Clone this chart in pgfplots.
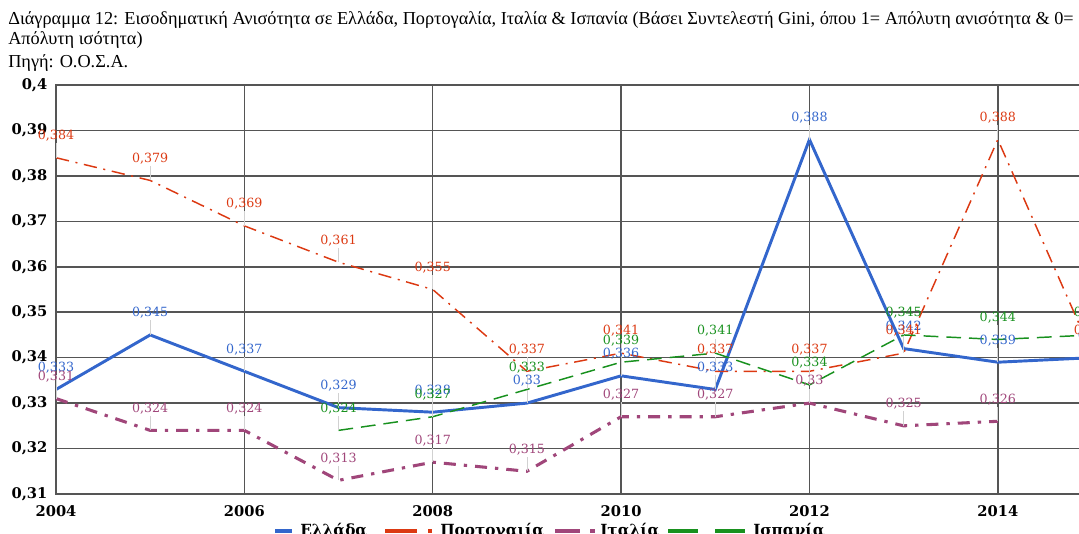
\documentclass[border=0pt]{standalone}
\usepackage{fontspec}
\setmainfont{DejaVu Serif}
\newfontfamily\titlefont{Liberation Serif}
\usepackage{pgfplots}
\pgfplotsset{compat=1.18}
\definecolor{cgr}{RGB}{51,102,204}
\definecolor{cpt}{RGB}{220,57,18}
\definecolor{cit}{RGB}{160,70,122}
\definecolor{ces}{RGB}{24,145,30}
\definecolor{cgrid}{RGB}{85,85,85}
\pgfplotsset{
  lab/.style={
    nodes near coords={\pgfmathprintnumber[precision=3,use comma]{\pgfplotspointmeta}},
    every node near coord/.append style={font=\fontsize{9.5}{11}\selectfont, text=#1, anchor=center, yshift=16.5pt},
    error bars/.cd, y dir=plus, y fixed=0.0032, error mark=none,
    error bar style={solid, line width=0.5pt, color=black!18}
  }
}
\begin{document}
\begin{tikzpicture}
\useasboundingbox (-42pt,-30pt) rectangle (767.25pt,370.5pt);
\begin{axis}[
  at={(0,0)}, anchor=south west,
  scale only axis, width=777pt, height=306.75pt,
  xmin=2004, xmax=2015, ymin=0.31, ymax=0.4,
  xtick={2004,2006,2008,2010,2012,2014},
  ytick={0.31,0.32,0.33,0.34,0.35,0.36,0.37,0.38,0.39,0.4},
  grid=major,
  major grid style={cgrid, line width=1.1pt},
  axis line style={cgrid, line width=1.1pt},
  major tick length=0pt,
  /pgf/number format/assume math mode=true,
  /pgf/number format/use comma,
  yticklabel style={font=\bfseries\fontsize{11}{13}\selectfont, anchor=east, xshift=-3pt},
  xticklabel style={font=\bfseries\fontsize{11}{13}\selectfont, /pgf/number format/1000 sep={}, yshift=-5pt},
]
\addplot[cgr, line width=2.2pt, lab=cgr] coordinates {
  (2004,0.333) (2005,0.345) (2006,0.337) (2007,0.329) (2008,0.328) (2009,0.33)
  (2010,0.336) (2011,0.333) (2012,0.388) (2013,0.342) (2014,0.339) (2015,0.340)};
\addplot[cpt, line width=1.1pt, dash pattern=on 10pt off 5pt on 1.5pt off 5pt, lab=cpt] coordinates {
  (2004,0.384) (2005,0.379) (2006,0.369) (2007,0.361) (2008,0.355) (2009,0.337)
  (2010,0.341) (2011,0.337) (2012,0.337) (2013,0.341) (2014,0.388) (2015,0.341)};
\addplot[cit, line width=2.3pt, dash pattern=on 9pt off 6pt on 2.5pt off 6pt, lab=cit] coordinates {
  (2004,0.331) (2005,0.324) (2006,0.324) (2007,0.313) (2008,0.317) (2009,0.315)
  (2010,0.327) (2011,0.327) (2012,0.33) (2013,0.325) (2014,0.326)};
\addplot[ces, line width=1.1pt, dash pattern=on 11pt off 6pt, lab=ces] coordinates {
  (2007,0.324) (2008,0.327) (2009,0.333) (2010,0.339) (2011,0.341) (2012,0.334)
  (2013,0.345) (2014,0.344) (2015,0.345)};
\end{axis}
% title
\node[anchor=west, inner sep=0, font=\titlefont\fontsize{13.7}{15}\selectfont] at (-36pt,355.5pt)
  {Διάγραμμα 12: Εισοδηματική Ανισότητα σε Ελλάδα, Πορτογαλία, Ιταλία \& Ισπανία (Βάσει Συντελεστή Gini, όπου 1= Απόλυτη ανισότητα \& 0=};
\node[anchor=west, inner sep=0, font=\titlefont\fontsize{13.7}{15}\selectfont] at (-36pt,340.5pt)
  {Απόλυτη ισότητα)};
\node[anchor=west, inner sep=0, font=\titlefont\fontsize{13.7}{15}\selectfont] at (-36pt,323.25pt)
  {Πηγή: Ο.Ο.Σ.Α.};
% legend
\fill[cgr] (164.25pt,-29.25pt) rectangle (177pt,-26.25pt);
\node[anchor=base west, inner sep=0, font=\bfseries\fontsize{11.5}{13}\selectfont] at (183pt,-31pt) {Ελλάδα};
\fill[cpt] (246.75pt,-29.25pt) rectangle (270.75pt,-26.25pt);
\fill[cpt] (279pt,-29.25pt) rectangle (282pt,-26.25pt);
\node[anchor=base west, inner sep=0, font=\bfseries\fontsize{11.5}{13}\selectfont] at (288pt,-31pt) {Πορτογαιία};
\fill[cit] (374.25pt,-29.25pt) rectangle (393pt,-26.25pt);
\fill[cit] (400.5pt,-29.25pt) rectangle (404.25pt,-26.25pt);
\node[anchor=base west, inner sep=0, font=\bfseries\fontsize{11.5}{13}\selectfont] at (408pt,-31pt) {Ιταλία};
\fill[ces] (459pt,-29.25pt) rectangle (481.5pt,-26.25pt);
\fill[ces] (494.25pt,-29.25pt) rectangle (516.75pt,-26.25pt);
\node[anchor=base west, inner sep=0, font=\bfseries\fontsize{11.5}{13}\selectfont] at (522.75pt,-31pt) {Ισπανία};
\end{tikzpicture}
\end{document}
